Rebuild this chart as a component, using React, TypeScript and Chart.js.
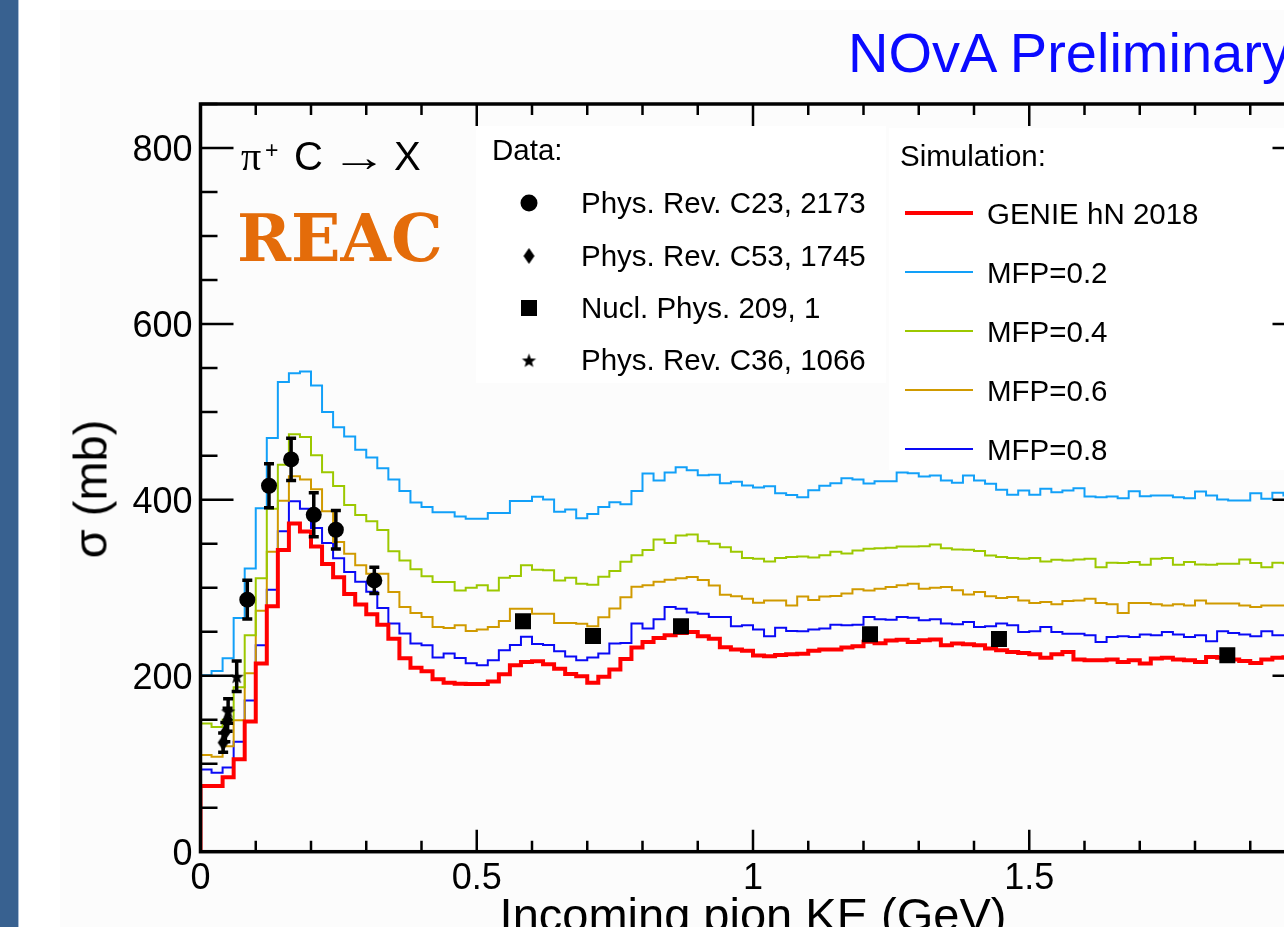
import React, { useEffect, useRef } from 'react';
import { Chart, registerables } from 'chart.js';

Chart.register(...registerables);

// ---------- data (mb per 0.02 GeV bin, starting at 0 GeV) ----------
const BIN_WIDTH = 0.02;

const GENIE_HN_2018 = [
  74.6, 74.6, 84.5, 105, 148, 214, 279, 343, 373, 364,
  347, 327, 312, 293, 281, 270, 258, 242, 220, 209,
  205, 196, 192, 191, 190.7, 190.7, 193.5, 201.7, 212, 215.7,
  216.5, 213, 208, 202, 199.5, 192, 199, 207, 219, 232,
  238.5, 243, 246, 248.5, 249.7, 245, 242, 232.5, 230, 228.5,
  223, 222.3, 223.5, 224.5, 225, 228.4, 230, 230, 232, 233.5,
  238.8, 237, 240, 241, 238.4, 240.3, 241.1, 234.6, 236.6, 235.8,
  234.6, 230.9, 229, 227, 225.9, 224.4, 220.6, 224.4, 227, 218.4,
  217.6, 217.6, 218.4, 215.7, 217.6, 213.9, 219.5, 220.6, 218.4, 217.6,
  215.7, 221.4, 220.6, 218.4, 216.8, 214.6, 218.4, 220.6, 221, 222,
];

const MFP_02 = [
  200.6, 205.5, 220, 265.6, 322, 390.5, 470.4, 534, 544, 546,
  530, 500, 482.5, 472, 457, 448, 436, 423, 410, 397,
  392, 386, 386, 381, 378.5, 378.5, 385, 385, 398.6, 398.6,
  403.6, 400.5, 386.5, 389, 379, 384, 392, 397.4, 395, 410,
  430, 422, 431, 437, 433.5, 428, 428.5, 419, 420.5, 416.4,
  414, 415.4, 407.5, 405.5, 403, 411, 416, 419, 424.5, 423,
  418.5, 421, 421, 431, 430.3, 426.5, 427.6, 422, 419.3, 427.6,
  422, 418.2, 411.4, 405.7, 410.6, 405.7, 412.5, 408.7, 410.6, 413.2,
  403.8, 403, 403.8, 401.9, 409.8, 404.1, 404.9, 404.9, 403, 401.9,
  409.5, 404.9, 400.4, 399.3, 399.3, 407.5, 401.2, 408, 405, 403,
];

const MFP_04 = [
  145.7, 141.9, 150, 187, 246, 311, 390, 440, 474.5, 471.4,
  450.6, 431.5, 415.7, 394, 382.8, 375.6, 365.8, 341.6, 331, 321,
  313, 306.6, 306.6, 297, 300, 303, 297, 311.5, 313.5, 325.5,
  320.6, 320, 308.4, 311.5, 304.5, 303.5, 312.5, 319, 329.5, 337,
  343, 355, 351, 359.5, 360.6, 353, 350, 346, 341, 334,
  333, 330, 334, 335, 335.5, 334.5, 337, 341, 339, 342.5,
  344.4, 345, 345.5, 347, 347, 347.3, 349.3, 345.1, 343.6, 343.3,
  341.7, 336.8, 334.9, 333.8, 333, 333.8, 330, 331.9, 331.1, 332.3,
  333, 323.5, 328.5, 328.1, 329.2, 326.2, 333, 333.8, 326.2, 329.2,
  326.6, 326.2, 327.4, 327.4, 332.3, 328.1, 323.5, 328.5, 328, 327,
];

const MFP_06 = [
  109.8, 108, 120, 149.5, 203, 274, 341, 399, 426.7, 423,
  412, 387, 352, 338.7, 325.5, 316, 316, 295.2, 278.1, 271.3,
  266.8, 255.4, 254.3, 257.3, 250.9, 252.5, 255.4, 262.2, 276.3, 276.3,
  270.6, 270.6, 260, 260, 259, 256.2, 266.5, 276.5, 289.3, 301.3,
  303, 307, 309.2, 310.8, 312.3, 309, 302.5, 292, 290.3, 287.7,
  283, 285.7, 285.7, 280, 290, 286, 290, 290.8, 293.6, 298.5,
  297, 299, 301, 303, 304.7, 299, 300.1, 300.8, 297.1, 292.5,
  295.2, 290.3, 288.4, 289.5, 285.7, 282.7, 283.8, 281.2, 284.9, 285.7,
  287.7, 282.7, 281.2, 271.3, 282.7, 282.7, 281.2, 280, 281.2, 280,
  285.7, 282.2, 282.2, 282.2, 280, 278.1, 280, 280, 280, 279,
];

const MFP_08 = [
  93.5, 89.7, 95.8, 125, 172, 234.6, 297.8, 364.4, 398.5, 389.8,
  368, 351, 333.5, 318, 307, 295.5, 277, 259.3, 248, 236.6,
  234.6, 220.7, 225.2, 220.2, 214.2, 212, 217.6, 229, 235, 244.5,
  236.2, 235, 228, 222, 217.6, 220.7, 225.2, 236.6, 237.3, 259.3,
  253.6, 264.2, 278.1, 276.3, 271.8, 270.6, 266.8, 266.8, 256.2, 257.3,
  252.5, 244.9, 254.7, 250.9, 250.6, 252.5, 253.6, 258.1, 257.3, 258.1,
  266.8, 264.2, 263.6, 266.8, 266.1, 263, 264.2, 259.3, 258.5, 261.1,
  255.4, 256.2, 259.3, 257.3, 249.7, 250.5, 255.4, 249.7, 247.9, 247.9,
  246, 238.4, 244.1, 244.9, 244.1, 246.8, 246, 249.7, 246.8, 244.1,
  246, 239.2, 250.5, 248.6, 246.8, 244.9, 250.5, 246, 246, 245,
];

// Data points (KE in GeV, sigma in mb, error in mb)
const C23_KE = [0.0847, 0.124, 0.164, 0.205, 0.245, 0.3146];
const C23_SIG = [286.5, 416, 446, 383, 366, 308.4];
const C23_ERR = [22, 25, 24, 25, 22, 15];

const C53_KE = [0.041, 0.045, 0.049];
const C53_SIG = [124, 136, 150];
const C53_ERR = [11, 11, 13];

const N209_KE = [0.5837, 0.7104, 0.8697, 1.2118, 1.4452, 1.8585];
const N209_SIG = [261.9, 245.2, 256.2, 247.1, 241.8, 223.3];

const C36_KE = [0.050, 0.0655];
const C36_SIG = [160, 199.5];
const C36_ERR = [14, 17.4];

// Axes
const X_MIN = 0, X_MAX = 2, X_MINOR = 0.1, X_MAJOR = 0.5;
const Y_MIN = 0, Y_MAX = 850, Y_MINOR = 50, Y_MAJOR = 200;

const SIM_LABELS = ['GENIE hN 2018', 'MFP=0.2', 'MFP=0.4', 'MFP=0.6', 'MFP=0.8'];
const SIM_COLORS = ['#ff0000', '#12a0f8', '#9cc800', '#d09a00', '#0a0af5'];
const SIM_WIDTHS = [4, 2, 2, 2, 2];
const DATA_LABELS = ['Phys. Rev. C23, 2173', 'Phys. Rev. C53, 1745', 'Nucl. Phys. 209, 1', 'Phys. Rev. C36, 1066'];

// ---------- layout ----------
const W = 1340, H = 927;
const AREA = { left: 200.5, right: 1305.5, top: 104, bottom: 851.7 };
const FONT = "'Liberation Sans', Arial, Helvetica, sans-serif";

const DATA_ROWS_Y = [203, 256, 308, 360];
const SIM_ROWS_Y = [213, 272, 331, 390, 449];

function histPoints(values: number[]) {
  const pts: { x: number; y: number }[] = [{ x: 0, y: 0 }];
  values.forEach((v, i) => pts.push({ x: i * BIN_WIDTH, y: v }));
  pts.push({ x: values.length * BIN_WIDTH, y: values[values.length - 1] });
  return pts;
}

function pts(xs: number[], ys: number[]) {
  return xs.map((x, i) => ({ x, y: ys[i] }));
}

function makeStar(r: number) {
  const s = Math.ceil(r * 2 + 2);
  const c = document.createElement('canvas');
  c.width = s; c.height = s;
  const g = c.getContext('2d')!;
  g.fillStyle = '#000';
  g.beginPath();
  for (let i = 0; i < 10; i++) {
    const a = -Math.PI / 2 + (i * Math.PI) / 5;
    const rr = i % 2 === 0 ? r : r * 0.42;
    g.lineTo(s / 2 + rr * Math.cos(a), s / 2 + 1 + rr * Math.sin(a));
  }
  g.closePath();
  g.fill();
  return c;
}

function makeDiamond(w: number, h: number) {
  const c = document.createElement('canvas');
  c.width = Math.ceil(w + 2); c.height = Math.ceil(h + 2);
  const g = c.getContext('2d')!;
  const cx = c.width / 2, cy = c.height / 2;
  g.fillStyle = '#000';
  g.beginPath();
  g.moveTo(cx, cy - h / 2);
  g.lineTo(cx + w / 2, cy);
  g.lineTo(cx, cy + h / 2);
  g.lineTo(cx - w / 2, cy);
  g.closePath();
  g.fill();
  return c;
}

const ERROR_SETS = [
  { xs: C23_KE, ys: C23_SIG, es: C23_ERR },
  { xs: C53_KE, ys: C53_SIG, es: C53_ERR },
  { xs: C36_KE, ys: C36_SIG, es: C36_ERR },
];

export default function App() {
  const ref = useRef<HTMLCanvasElement>(null);

  useEffect(() => {
    const canvas = ref.current!;
    const star = makeStar(7.5);
    const diamond = makeDiamond(11, 16);

    const rootStyle = {
      id: 'rootStyle',
      afterDatasetsDraw(chart: any) {
        const { ctx, scales } = chart;
        const x = scales.x, y = scales.y;
        ctx.save();
        ctx.strokeStyle = '#000';
        ctx.lineWidth = 3.5;
        for (const set of ERROR_SETS) {
          set.xs.forEach((xv, i) => {
            const px = x.getPixelForValue(xv);
            const lo = y.getPixelForValue(set.ys[i] - set.es[i]);
            const hi = y.getPixelForValue(set.ys[i] + set.es[i]);
            ctx.beginPath();
            ctx.moveTo(px, lo); ctx.lineTo(px, hi);
            ctx.moveTo(px - 5, lo); ctx.lineTo(px + 5, lo);
            ctx.moveTo(px - 5, hi); ctx.lineTo(px + 5, hi);
            ctx.stroke();
          });
        }
        ctx.restore();
      },
      afterDraw(chart: any) {
        const { ctx, chartArea: a, scales } = chart;
        const x = scales.x, y = scales.y;
        ctx.save();
        ctx.strokeStyle = '#000';
        // ticks
        ctx.lineWidth = 2.5;
        const nY = Math.round((Y_MAX - Y_MIN) / Y_MINOR);
        for (let k = 0; k <= nY; k++) {
          const v = Y_MIN + k * Y_MINOR;
          const py = y.getPixelForValue(v);
          const len = v % Y_MAJOR === 0 ? 33 : 17;
          ctx.beginPath();
          ctx.moveTo(a.left, py); ctx.lineTo(a.left + len, py);
          ctx.moveTo(a.right, py); ctx.lineTo(a.right - len, py);
          ctx.stroke();
        }
        const nX = Math.round((X_MAX - X_MIN) / X_MINOR);
        const per = Math.round(X_MAJOR / X_MINOR);
        for (let k = 0; k <= nX; k++) {
          const px = x.getPixelForValue(X_MIN + k * X_MINOR);
          const len = k % per === 0 ? 22 : 11;
          ctx.beginPath();
          ctx.moveTo(px, a.bottom); ctx.lineTo(px, a.bottom - len);
          ctx.moveTo(px, a.top); ctx.lineTo(px, a.top + len);
          ctx.stroke();
        }
        // frame
        ctx.lineWidth = 3.5;
        ctx.strokeRect(a.left, a.top, a.right - a.left, a.bottom - a.top);

        // legend symbols
        const lx = 529;
        ctx.fillStyle = '#000';
        ctx.beginPath();
        ctx.arc(lx, DATA_ROWS_Y[0], 8.5, 0, Math.PI * 2);
        ctx.fill();
        ctx.drawImage(diamond, lx - diamond.width / 2, DATA_ROWS_Y[1] - diamond.height / 2);
        ctx.fillRect(lx - 8, DATA_ROWS_Y[2] - 8, 16, 16);
        ctx.drawImage(star, lx - star.width / 2, DATA_ROWS_Y[3] - star.height / 2);

        SIM_ROWS_Y.forEach((yy, i) => {
          ctx.strokeStyle = SIM_COLORS[i];
          ctx.lineWidth = SIM_WIDTHS[i];
          ctx.beginPath();
          ctx.moveTo(905, yy); ctx.lineTo(973, yy);
          ctx.stroke();
        });
        ctx.restore();
      },
    };

    const simSeries = [GENIE_HN_2018, MFP_02, MFP_04, MFP_06, MFP_08];

    const chart = new Chart(canvas, {
      type: 'line',
      data: {
        datasets: [
          { type: 'scatter', label: DATA_LABELS[0], data: pts(C23_KE, C23_SIG), pointStyle: 'circle', pointRadius: 8, backgroundColor: '#000', borderWidth: 0 } as any,
          { type: 'scatter', label: DATA_LABELS[1], data: pts(C53_KE, C53_SIG), pointStyle: diamond, backgroundColor: '#000', borderWidth: 0 } as any,
          { type: 'scatter', label: DATA_LABELS[2], data: pts(N209_KE, N209_SIG), pointStyle: 'rect', pointRadius: 11.3, backgroundColor: '#000', borderWidth: 0 } as any,
          { type: 'scatter', label: DATA_LABELS[3], data: pts(C36_KE, C36_SIG), pointStyle: star, backgroundColor: '#000', borderWidth: 0 } as any,
          ...simSeries.map((vals, i) => ({
            type: 'line',
            label: SIM_LABELS[i],
            data: histPoints(vals),
            borderColor: SIM_COLORS[i],
            borderWidth: SIM_WIDTHS[i],
            stepped: 'before',
            pointRadius: 0,
            fill: false,
            tension: 0,
          })) as any,
        ],
      },
      options: {
        responsive: false,
        animation: false,
        devicePixelRatio: 1,
        parsing: false,
        layout: { padding: { left: 0, right: W - AREA.right, top: AREA.top, bottom: 0 } },
        plugins: { legend: { display: false }, tooltip: { enabled: false } },
        scales: {
          x: {
            type: 'linear',
            min: X_MIN,
            max: X_MAX,
            afterFit: (s: any) => { s.height = H - AREA.bottom; },
            grid: { display: false, drawTicks: false },
            border: { display: false },
            ticks: {
              stepSize: X_MINOR,
              autoSkip: false,
              maxRotation: 0,
              minRotation: 0,
              padding: 6,
              color: '#000',
              font: { family: FONT, size: 36 },
              callback: (v: any) => {
                const r = Math.round(Number(v) / X_MINOR);
                return r % Math.round(X_MAJOR / X_MINOR) === 0 ? String(Math.round(Number(v) * 10) / 10) : '';
              },
            },
          },
          y: {
            type: 'linear',
            min: Y_MIN,
            max: Y_MAX,
            afterFit: (s: any) => { s.width = AREA.left; },
            grid: { display: false, drawTicks: false },
            border: { display: false },
            ticks: {
              stepSize: Y_MINOR,
              autoSkip: false,
              padding: 8,
              labelOffset: 3,
              color: '#000',
              font: { family: FONT, size: 36 },
              callback: (v: any) => (Math.round(Number(v)) % Y_MAJOR === 0 ? String(Math.round(Number(v))) : ''),
            },
          },
        },
      } as any,
      plugins: [rootStyle],
    });

    return () => chart.destroy();
  }, []);

  const txt = (left: number, cy: number, size: number, content: React.ReactNode, extra: React.CSSProperties = {}) => (
    <div
      style={{
        position: 'absolute', left, top: cy, fontSize: size, lineHeight: 1, fontFamily: FONT,
        whiteSpace: 'nowrap', transform: 'translateY(-50%)', color: '#000', ...extra,
      }}
    >
      {content}
    </div>
  );

  return (
    <div style={{ position: 'fixed', left: 0, top: 0, width: 1284, height: 927, overflow: 'hidden', background: '#fff' }}>
      <div style={{ position: 'absolute', left: 0, top: 0, width: 18, height: 927, background: '#386190' }} />
      <div style={{ position: 'absolute', left: 18, top: 0, width: 1, height: 927, background: '#a9bdd6' }} />
      <div style={{ position: 'absolute', left: 60, top: 10, right: 0, bottom: 0, background: '#fcfcfc' }} />
      <div style={{ position: 'absolute', left: 476, top: 126, width: 410, height: 257, background: '#fff' }} />
      <div style={{ position: 'absolute', left: 889, top: 128, width: 400, height: 342, background: '#fff' }} />
      <canvas ref={ref} width={W} height={H} style={{ position: 'absolute', left: 0, top: 0, width: W, height: H }} />

      {txt(848, 53, 56, 'NOvA Preliminary', { color: '#0a0aff' })}

      {/* pi+ C -> X, laid out piece by piece */}
      {txt(241, 157, 40, 'π', { fontFamily: "'Liberation Serif', 'DejaVu Serif', serif" })}
      {txt(265, 150, 23, '+')}
      {txt(294, 156, 40, 'C')}
      {txt(331, 157, 40, '→', { display: 'inline-block', transform: 'translateY(-50%) scaleX(1.4)', transformOrigin: 'left center' })}
      {txt(394, 156, 40, 'X')}

      {txt(237, 238, 65, 'REAC', { fontFamily: "'DejaVu Serif', serif", fontWeight: 'bold', color: '#e46c0a' })}

      {txt(492, 150, 29.5, 'Data:')}
      {DATA_LABELS.map((l, i) => <React.Fragment key={l}>{txt(581, DATA_ROWS_Y[i], 29.5, l)}</React.Fragment>)}
      {txt(900, 156, 29.5, 'Simulation:')}
      {SIM_LABELS.map((l, i) => <React.Fragment key={l}>{txt(987, SIM_ROWS_Y[i] + 1, 29.5, l)}</React.Fragment>)}

      <div
        style={{
          position: 'absolute', left: 90, top: 489, fontSize: 47, lineHeight: 1, fontFamily: FONT,
          whiteSpace: 'nowrap', transform: 'translate(-50%, -50%) rotate(-90deg)', color: '#000',
        }}
      >
        σ (mb)
      </div>
      <div
        style={{
          position: 'absolute', left: 753, top: 891, fontSize: 47, lineHeight: 1, fontFamily: FONT,
          whiteSpace: 'nowrap', transform: 'translateX(-50%)', color: '#000',
        }}
      >
        Incoming pion KE (GeV)
      </div>
    </div>
  );
}
